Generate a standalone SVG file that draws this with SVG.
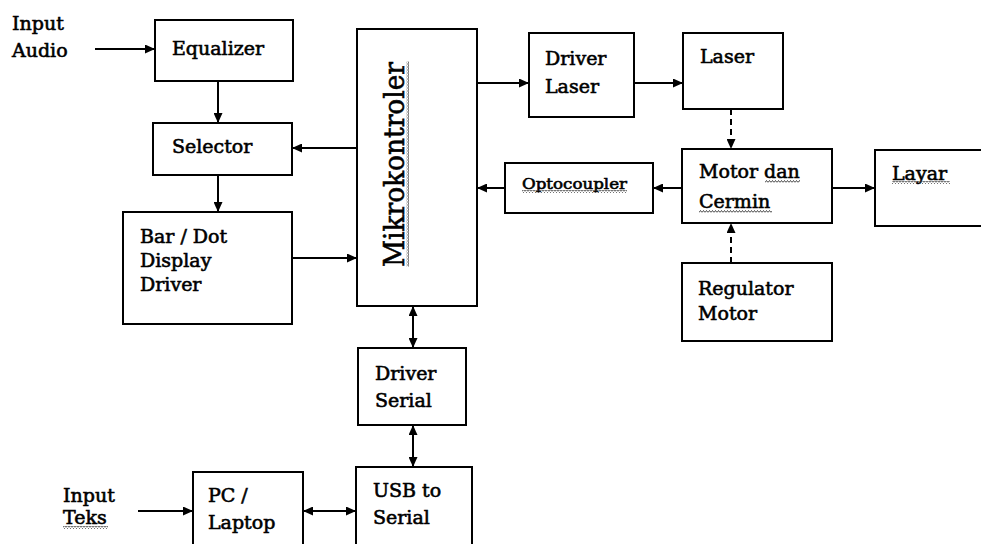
<svg xmlns="http://www.w3.org/2000/svg" width="981" height="544" viewBox="0 0 981 544">
<style>
  .box { fill: #fff; stroke: #000; stroke-width: 2; }
  .t { font-family: "DejaVu Serif", "Liberation Serif", serif; font-size: 19px; fill: #000; stroke: #000; stroke-width: 0.6; }
  .line { fill: none; stroke: #000; stroke-width: 2; }
  .arrow { marker-end: url(#ah); }
  .both { marker-start: url(#ah); marker-end: url(#ah); }
  .dash { stroke-dasharray: 6 4; }
</style>
<defs>
  <marker id="ah" viewBox="0 0 10 9" refX="10" refY="4.5" markerWidth="10" markerHeight="9" markerUnits="userSpaceOnUse" orient="auto-start-reverse">
    <path d="M0,0 L10,4.5 L0,9 z" fill="#000"/>
  </marker>
  <pattern id="wave" width="3" height="3" patternUnits="userSpaceOnUse">
    <path d="M0,2.5 L1.5,0.5 L3,2.5" fill="none" stroke="#333" stroke-width="0.9"/>
  </pattern>
</defs>
<rect width="981" height="544" fill="#fff"/>

<g id="input-audio">
  <text class="t" x="12" y="30">Input</text>
  <text class="t" x="12" y="57">Audio</text>
</g>
<g id="equalizer">
  <rect class="box" x="155" y="20" width="138" height="61"/>
  <text class="t" x="172" y="55">Equalizer</text>
</g>
<g id="selector">
  <rect class="box" x="153" y="123" width="139" height="52"/>
  <text class="t" x="172" y="153">Selector</text>
</g>
<g id="bar-dot">
  <rect class="box" x="123" y="212" width="169" height="112"/>
  <text class="t" x="140" y="243">Bar / Dot</text>
  <text class="t" x="140" y="267">Display</text>
  <text class="t" x="140" y="291">Driver</text>
</g>
<g id="mikrokontroler">
  <rect class="box" x="357" y="29" width="120" height="277"/>
  <g transform="translate(404,164.5) rotate(-90)">
    <text class="t" x="0" y="0" text-anchor="middle" style="font-size:28px" textLength="205" lengthAdjust="spacingAndGlyphs">Mikrokontroler</text>
    <rect x="-102" y="2" width="205" height="3" fill="url(#wave)"/>
  </g>
</g>
<g id="driver-laser">
  <rect class="box" x="529" y="33" width="105" height="84"/>
  <text class="t" x="545" y="65">Driver</text>
  <text class="t" x="545" y="93">Laser</text>
</g>
<g id="laser">
  <rect class="box" x="683" y="33" width="100" height="76"/>
  <text class="t" x="700" y="63">Laser</text>
</g>
<g id="optocoupler">
  <rect class="box" x="505" y="163" width="148" height="50"/>
  <text class="t" x="522" y="189" style="font-size:15px" textLength="105" lengthAdjust="spacingAndGlyphs">Optocoupler</text>
  <rect x="522" y="190" width="105" height="3" fill="url(#wave)"/>
</g>
<g id="motor-cermin">
  <rect class="box" x="682" y="149" width="150" height="74"/>
  <text class="t" x="699" y="178">Motor dan</text>
  <rect x="765" y="180" width="35" height="3" fill="url(#wave)"/>
  <text class="t" x="699" y="208">Cermin</text>
  <rect x="699" y="210" width="73" height="3" fill="url(#wave)"/>
</g>
<g id="layar">
  <rect class="box" x="875" y="150" width="115" height="76"/>
  <text class="t" x="892" y="180">Layar</text>
  <rect x="892" y="181" width="58" height="3" fill="url(#wave)"/>
</g>
<g id="regulator-motor">
  <rect class="box" x="682" y="263" width="150" height="78"/>
  <text class="t" x="698" y="295">Regulator</text>
  <text class="t" x="698" y="320">Motor</text>
</g>
<g id="driver-serial">
  <rect class="box" x="358" y="348" width="108" height="77"/>
  <text class="t" x="375" y="380">Driver</text>
  <text class="t" x="375" y="407">Serial</text>
</g>
<g id="usb-serial">
  <rect class="box" x="356" y="467" width="116" height="85"/>
  <text class="t" x="373" y="497">USB to</text>
  <text class="t" x="373" y="524">Serial</text>
</g>
<g id="pc-laptop">
  <rect class="box" x="193" y="472" width="110" height="80"/>
  <text class="t" x="208" y="502">PC /</text>
  <text class="t" x="208" y="529">Laptop</text>
</g>
<g id="input-teks">
  <text class="t" x="63" y="502">Input</text>
  <text class="t" x="63" y="524">Teks</text>
  <rect x="63" y="526" width="45" height="3" fill="url(#wave)"/>
</g>

<g id="connectors">
  <path class="line arrow" d="M95,49 L155,49"/>
  <path class="line arrow" d="M218,81 L218,123"/>
  <path class="line arrow" d="M357,148 L292,148"/>
  <path class="line arrow" d="M218,175 L218,212"/>
  <path class="line arrow" d="M292,258 L357,258"/>
  <path class="line arrow" d="M477,83 L529,83"/>
  <path class="line arrow" d="M634,83 L683,83"/>
  <path class="line arrow dash" d="M731,109 L731,149"/>
  <path class="line arrow" d="M682,188 L653,188"/>
  <path class="line arrow" d="M505,188 L477,188"/>
  <path class="line arrow" d="M832,188 L875,188"/>
  <path class="line arrow dash" d="M731,263 L731,223"/>
  <path class="line both" d="M413,306 L413,348"/>
  <path class="line both" d="M413,425 L413,467"/>
  <path class="line arrow" d="M138,511 L193,511"/>
  <path class="line both" d="M303,511 L356,511"/>
</g>
</svg>
